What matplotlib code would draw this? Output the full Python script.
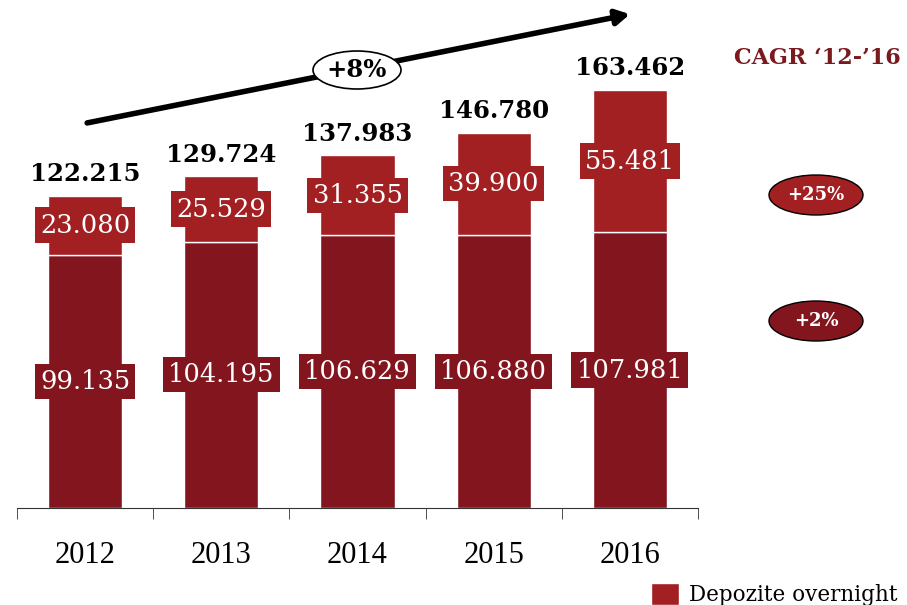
import matplotlib.pyplot as plt
from matplotlib.patches import Ellipse
import numpy as np

years = ["2012", "2013", "2014", "2015", "2016"]
overnight = [99.135, 104.195, 106.629, 106.880, 107.981]
term = [23.080, 25.529, 31.355, 39.900, 55.481]
totals = [122.215, 129.724, 137.983, 146.780, 163.462]
cagr_labels = ["+25%", "+2%"]
trend_label = "+8%"

dark = "#83151F"
light = "#A21F22"
serif = "DejaVu Serif"

fig = plt.figure(figsize=(9.07, 6.05), dpi=100)
W, H = 907, 605
ax = fig.add_axes([17 / W, (H - 508) / H, 681 / W, 508 / H])

x = np.arange(len(years))
bw = 0.545
ax.bar(x, overnight, bw, color=dark, edgecolor="white", linewidth=1)
ax.bar(x, term, bw, bottom=overnight, color=light, edgecolor="white",
       linewidth=1, label="Depozite overnight")

for i in range(len(years)):
    ax.text(x[i], overnight[i] / 2, f"{overnight[i]:.3f}", ha="center",
            va="center", color="white", fontsize=18.5, family=serif,
            bbox=dict(boxstyle="square,pad=0.2", fc=dark, ec="none"))
    ax.text(x[i], overnight[i] + term[i] / 2, f"{term[i]:.3f}", ha="center",
            va="center", color="white", fontsize=18.5, family=serif,
            bbox=dict(boxstyle="square,pad=0.2", fc=light, ec="none"))
    ax.annotate(f"{totals[i]:.3f}", (x[i], totals[i]), xytext=(0, 7),
                textcoords="offset points", ha="center", va="bottom",
                fontsize=17.6, fontweight="bold", family=serif, color="black")

ax.set_xlim(-0.5, len(years) - 0.5)
ax.set_ylim(0, 508 / 2.556)
for s in ["top", "right", "left"]:
    ax.spines[s].set_visible(False)
ax.spines["bottom"].set_color("#333333")
ax.set_yticks([])
ax.set_xticks(x)
ax.set_xticklabels(years, family="Liberation Serif", fontsize=22)
ax.tick_params(axis="x", which="major", length=0, pad=24)
ax.set_xticks(np.arange(-0.5, len(years)), minor=True)
ax.tick_params(axis="x", which="minor", length=8, color="#333333")

# trend arrow
ax.annotate("", xy=(0.900, 0.972), xytext=(0.103, 0.758),
            xycoords="axes fraction",
            arrowprops=dict(arrowstyle="-|>,head_length=0.8,head_width=0.45",
                            lw=4, color="black", shrinkA=0, shrinkB=0))
ax.add_patch(Ellipse((357 / W, 1 - 70 / H), 88 / W, 38 / H,
                     transform=fig.transFigure, fc="white", ec="black",
                     lw=1.2, zorder=5))
fig.text(357 / W, 1 - 70 / H, trend_label, ha="center", va="center",
         fontsize=17.5, fontweight="bold", family=serif, zorder=6)

# CAGR column
fig.text(817 / W, 1 - 58 / H, "CAGR \u201812-\u201916", ha="center",
         va="center", fontsize=16, fontweight="bold", family=serif,
         color="#7B1A1E")
for (cy, col, lab) in [(195, light, cagr_labels[0]), (321, dark, cagr_labels[1])]:
    fig.patches.append(Ellipse((816 / W, 1 - cy / H), 94 / W, 40 / H,
                               transform=fig.transFigure, fc=col, ec="black",
                               lw=1.0))
    fig.text(816 / W, 1 - cy / H, lab, ha="center", va="center", fontsize=13,
             fontweight="bold", family=serif, color="white")

fig.legend(loc="upper left", bbox_to_anchor=(642 / W, 1 - 574 / H),
           frameon=False, handlelength=1.3, handleheight=1.2,
           handletextpad=0.5, prop=dict(family=serif, size=15.5),
           borderaxespad=0)

fig.savefig("out.png", dpi=100)
